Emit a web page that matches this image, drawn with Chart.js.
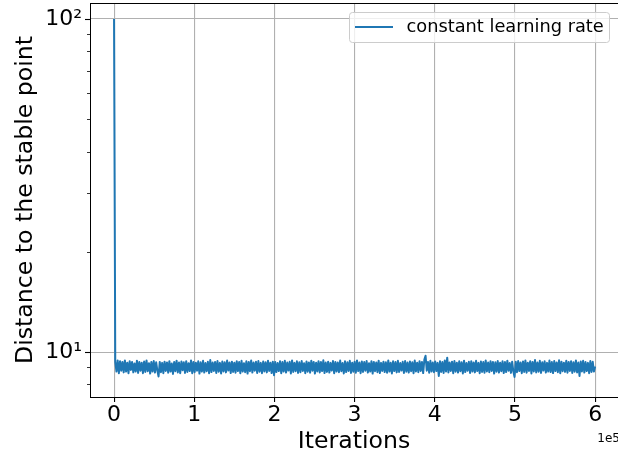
<!DOCTYPE html>
<html>
<head>
<meta charset="utf-8">
<script src="https://cdn.jsdelivr.net/npm/chart.js@4/dist/chart.umd.min.js"></script>
<style>
  html, body { margin: 0; padding: 0; background: #ffffff; }
  canvas { display: block; }
</style>
</head>
<body>
<canvas id="c" width="618" height="454"></canvas>
<script>
// ---- data ----
const seriesLabel = "constant learning rate";
const xTitle = "Iterations";
const yTitle = "Distance to the stable point";
const xOffsetText = "1e5";
const recordEvery = 1500;           // iterations between recorded samples
const xTickValues = [0, 100000, 200000, 300000, 400000, 500000, 600000];
const xTickLabels = ["0", "1", "2", "3", "4", "5", "6"];
const yMajorTicks = [10, 100];
const yMajorLabels = ["10\u00B9", "10\u00B2"];
const yMinorTicks = [8, 9, 20, 30, 40, 50, 60, 70, 80, 90];

const distance = [
  100, 9.34, 8.74, 9.44, 8.64, 9.39, 8.79, 9.34, 8.69, 9.44, 8.74, 9.29, 8.64, 9.39, 8.84, 9.34, 8.69, 9.24, 8.74, 9.42,
  8.66, 9.34, 8.79, 9.29, 8.64, 9.37, 8.72, 9.44, 8.76, 9.26, 8.62, 9.34, 8.74, 9.4, 8.68, 9.32, 8.8, 8.45, 9.34, 8.7,
  9.28, 8.64, 9.36, 8.78, 9.31, 8.67, 9.39, 8.74, 9.24, 8.6, 9.34, 8.76, 9.42, 8.69, 9.3, 8.64, 9.37, 8.82, 9.32, 8.66,
  9.39, 8.72, 9.26, 8.77, 9.44, 8.64, 9.34, 8.7, 9.29, 8.79, 9.38, 8.62, 9.32, 8.74, 9.41, 8.68, 9.27, 8.76, 9.35, 8.64,
  9.46, 8.71, 9.3, 8.78, 9.34, 8.66, 9.4, 8.73, 9.28, 8.63, 9.37, 8.75, 9.32, 8.69, 9.43, 8.8, 9.31, 8.65, 9.36, 8.72,
  9.29, 8.67, 9.39, 8.77, 9.33, 8.64, 9.41, 8.74, 9.26, 8.7, 9.38, 8.62, 9.34, 8.76, 9.44, 8.68, 9.3, 8.79, 9.35, 8.66,
  9.4, 8.73, 9.28, 8.64, 9.37, 8.75, 9.32, 8.69, 9.42, 8.78, 9.29, 8.65, 9.36, 8.52, 9.34, 8.71, 9.27, 8.77, 9.39, 8.64,
  9.33, 8.74, 9.41, 8.68, 9.3, 8.8, 9.35, 8.63, 9.44, 8.72, 9.28, 8.76, 9.38, 8.66, 9.32, 8.7, 9.4, 8.78, 9.26, 8.64,
  9.37, 8.73, 9.31, 8.67, 9.42, 8.79, 9.34, 8.62, 9.29, 8.75, 9.39, 8.69, 9.33, 8.77, 9.45, 8.65, 9.3, 8.72, 9.36, 8.68,
  9.28, 8.8, 9.4, 8.64, 9.34, 8.74, 9.31, 8.7, 9.43, 8.76, 9.27, 8.63, 9.38, 8.71, 9.32, 8.78, 9.41, 8.66, 9.29, 8.73,
  9.35, 8.67, 9.44, 8.77, 9.3, 8.64, 9.37, 8.72, 9.33, 8.79, 9.4, 8.68, 9.26, 8.74, 9.39, 8.62, 9.34, 8.76, 9.31, 8.7,
  9.42, 8.65, 9.28, 8.78, 9.36, 8.71, 9.32, 8.67, 9.44, 8.74, 9.29, 8.63, 9.38, 8.77, 9.33, 8.69, 9.41, 8.72, 9.27, 8.8,
  9.35, 8.66, 9.4, 8.73, 9.3, 8.68, 9.37, 8.76, 9.32, 8.64, 9.43, 8.75, 9.29, 8.7, 9.39, 8.78, 9.34, 8.65, 9.49, 9.75,
  8.79, 9.34, 8.67, 9.41, 8.74, 9.31, 8.7, 9.37, 8.77, 9.28, 8.48, 9.39, 8.72, 9.33, 8.66, 9.44, 8.75, 9.62, 8.69, 9.3,
  8.78, 9.36, 8.64, 9.4, 8.73, 9.29, 8.68, 9.38, 8.76, 9.32, 8.63, 9.42, 8.71, 9.27, 8.79, 9.35, 8.66, 9.39, 8.74, 9.31,
  8.69, 9.41, 8.77, 9.28, 8.64, 9.37, 8.72, 9.33, 8.67, 9.44, 8.75, 9.3, 8.7, 9.39, 8.78, 9.34, 8.62, 9.32, 8.73, 9.4,
  8.68, 9.29, 8.76, 9.38, 8.65, 9.33, 8.71, 9.42, 8.79, 9.27, 8.66, 9.36, 8.74, 8.42, 9.35, 8.7, 9.4, 8.77, 9.31, 8.64,
  9.37, 8.72, 9.44, 8.67, 9.29, 8.78, 9.39, 8.63, 9.34, 8.75, 9.46, 8.69, 9.3, 8.73, 9.41, 8.66, 9.32, 8.8, 9.38, 8.68,
  9.28, 8.74, 9.43, 8.71, 9.33, 8.65, 9.4, 8.77, 9.31, 8.7, 9.45, 8.64, 9.36, 8.76, 9.29, 8.72, 9.42, 8.67, 9.34, 8.78,
  9.39, 8.66, 9.32, 8.73, 9.44, 8.69, 9.3, 8.48, 9.37, 8.75, 9.41, 8.68, 9.33, 8.77, 9.28, 8.64, 9.4, 8.72, 9.35, 8.74, 9.05
];
// recorded iteration index of each sample
const iterations = distance.map((_, i) => i * recordEvery);

// ---- styling ----
const FONT = "'DejaVu Sans', 'Liberation Sans', sans-serif";
const LINE_COLOR = "#1f77b4";
const GRID_COLOR = "#b0b0b0";

const framePlugin = {
  id: "frame",
  afterDraw(chart) {
    const ctx = chart.ctx;
    const a = chart.chartArea;
    const y = chart.scales.y;
    ctx.save();
    // top spine
    ctx.strokeStyle = "#000";
    ctx.lineWidth = 1;
    ctx.beginPath();
    ctx.moveTo(a.left, Math.round(a.top) + 0.5);
    ctx.lineTo(a.right, Math.round(a.top) + 0.5);
    ctx.stroke();
    // y tick marks (major and minor)
    const drawTick = (v, len, w) => {
      const py = Math.round(y.getPixelForValue(v)) + 0.5;
      ctx.lineWidth = w;
      ctx.beginPath();
      ctx.moveTo(a.left, py);
      ctx.lineTo(a.left - len, py);
      ctx.stroke();
    };
    yMajorTicks.forEach(v => drawTick(v, 5, 1.1));
    yMinorTicks.forEach(v => drawTick(v, 3, 0.8));
    // offset text of x axis
    ctx.fillStyle = "#000";
    ctx.font = "12px " + FONT;
    ctx.textAlign = "right";
    ctx.textBaseline = "alphabetic";
    ctx.fillText(xOffsetText, 620, 442);
    // legend
    const lx = 349.5, ly = 12.5, lw = 260, lh = 30, r = 3;
    ctx.beginPath();
    ctx.moveTo(lx + r, ly);
    ctx.lineTo(lx + lw - r, ly);
    ctx.arcTo(lx + lw, ly, lx + lw, ly + r, r);
    ctx.lineTo(lx + lw, ly + lh - r);
    ctx.arcTo(lx + lw, ly + lh, lx + lw - r, ly + lh, r);
    ctx.lineTo(lx + r, ly + lh);
    ctx.arcTo(lx, ly + lh, lx, ly + lh - r, r);
    ctx.lineTo(lx, ly + r);
    ctx.arcTo(lx, ly, lx + r, ly, r);
    ctx.closePath();
    ctx.fillStyle = "rgba(255,255,255,0.8)";
    ctx.fill();
    ctx.strokeStyle = "#cccccc";
    ctx.lineWidth = 1;
    ctx.stroke();
    ctx.strokeStyle = LINE_COLOR;
    ctx.lineWidth = 2;
    ctx.beginPath();
    ctx.moveTo(355, 27);
    ctx.lineTo(393, 27);
    ctx.stroke();
    ctx.fillStyle = "#000";
    ctx.font = "17.8px " + FONT;
    ctx.textAlign = "left";
    ctx.textBaseline = "middle";
    ctx.fillText(chart.data.datasets[0].label, 406.5, 27);
    ctx.restore();
  }
};

new Chart(document.getElementById("c"), {
  type: "line",
  data: {
    labels: iterations,
    datasets: [{
      label: seriesLabel,
      data: distance,
      borderColor: LINE_COLOR,
      backgroundColor: LINE_COLOR,
      borderWidth: 2,
      borderJoinStyle: "round",
      borderCapStyle: "butt",
      pointRadius: 0,
      tension: 0,
      fill: false
    }]
  },
  options: {
    responsive: false,
    devicePixelRatio: 1,
    animation: false,
    layout: { padding: { top: 3, right: 0, bottom: 0, left: 0 } },
    plugins: {
      legend: { display: false },
      tooltip: { enabled: false }
    },
    scales: {
      x: {
        type: "linear",
        min: -30000,
        max: 628500,
        afterBuildTicks: s => { s.ticks = xTickValues.map(v => ({ value: v })); },
        afterFit: s => { s.height = 57; s.paddingLeft = 0; s.paddingRight = 0; },
        ticks: {
          autoSkip: false,
          maxRotation: 0,
          padding: 0,
          color: "#000",
          font: { family: FONT, size: 22 },
          callback: v => xTickLabels[xTickValues.indexOf(v)]
        },
        grid: {
          color: GRID_COLOR,
          lineWidth: 1.1,
          drawTicks: true,
          tickLength: 5,
          tickColor: "#000",
          tickWidth: 1.1
        },
        border: { display: true, color: "#000", width: 1 },
        title: {
          display: true,
          text: xTitle,
          color: "#000",
          font: { family: FONT, size: 23.6, lineHeight: 1 },
          padding: { top: 0, bottom: 0 }
        }
      },
      y: {
        type: "logarithmic",
        min: 7.33,
        max: 111.7,
        afterBuildTicks: s => {
          s.ticks = yMinorTicks.concat(yMajorTicks).sort((a, b) => a - b)
            .map(v => ({ value: v, major: yMajorTicks.includes(v) }));
        },
        afterFit: s => { s.width = 90; s.paddingTop = 0; s.paddingBottom = 0; },
        ticks: {
          autoSkip: false,
          padding: 8,
          color: "#000",
          font: { family: FONT, size: 22 },
          callback: v => {
            const i = yMajorTicks.indexOf(v);
            return i >= 0 ? yMajorLabels[i] : "";
          }
        },
        grid: {
          drawTicks: false,
          lineWidth: 1.1,
          color: c => (c.tick && yMajorTicks.includes(c.tick.value)) ? GRID_COLOR : "rgba(0,0,0,0)"
        },
        border: { display: true, color: "#000", width: 1 },
        title: {
          display: true,
          text: yTitle,
          color: "#000",
          font: { family: FONT, size: 23.6, lineHeight: 1 },
          padding: { top: 14, bottom: 0 }
        }
      }
    }
  },
  plugins: [framePlugin]
});
</script>
</body>
</html>
